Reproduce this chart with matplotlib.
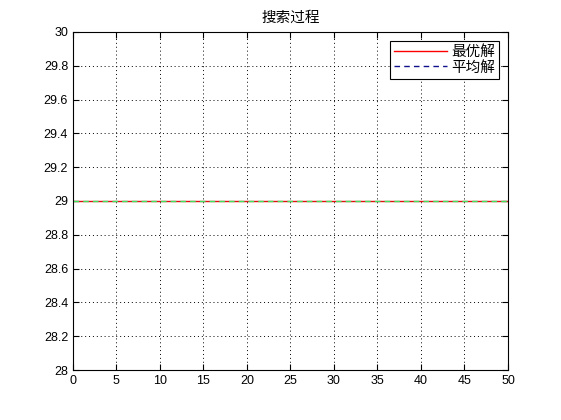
import matplotlib.pyplot as plt
from matplotlib.lines import Line2D

plt.rcParams['font.family'] = ['Liberation Sans', 'Noto Sans CJK SC', 'DejaVu Sans']
plt.rcParams['font.size'] = 9

gen = list(range(0, 51))
best = [29, 29, 29, 29, 29, 29, 29, 29, 29, 29,
        29, 29, 29, 29, 29, 29, 29, 29, 29, 29,
        29, 29, 29, 29, 29, 29, 29, 29, 29, 29,
        29, 29, 29, 29, 29, 29, 29, 29, 29, 29,
        29, 29, 29, 29, 29, 29, 29, 29, 29, 29, 29]
mean = [29, 29, 29, 29, 29, 29, 29, 29, 29, 29,
        29, 29, 29, 29, 29, 29, 29, 29, 29, 29,
        29, 29, 29, 29, 29, 29, 29, 29, 29, 29,
        29, 29, 29, 29, 29, 29, 29, 29, 29, 29,
        29, 29, 29, 29, 29, 29, 29, 29, 29, 29, 29]
labels = ['最优解', '平均解']

fig = plt.figure(figsize=(5.61, 4.2), dpi=100)
ax = fig.add_axes([0.130, 0.119, 0.7755, 0.805])
ax.plot(gen, best, color='#e01010', lw=1)
ax.plot(gen, mean, color='#40e060', lw=1, ls=(0, (4, 3)))

ax.set_xlim(0, 50)
ax.set_ylim(28, 30)
ax.set_xticks(range(0, 51, 5))
ax.set_yticks([28 + 0.2 * i for i in range(11)])
ax.set_yticklabels(['28', '28.2', '28.4', '28.6', '28.8', '29', '29.2', '29.4', '29.6', '29.8', '30'])
ax.tick_params(direction='in', top=True, right=True, length=4, width=0.8)
ax.grid(True, color='black', ls=(0, (1, 3)), lw=0.7)
ax.set_title('搜索过程', fontsize=10.5, pad=7)

handles = [Line2D([], [], color='red', lw=1),
           Line2D([], [], color='#10108c', lw=1, ls=(0, (4, 3)))]
leg = ax.legend(handles, labels, loc='upper right', fancybox=False, framealpha=1,
                edgecolor='black', fontsize=10.5, handlelength=3.6, borderaxespad=0.6,
                labelspacing=0.1, handletextpad=0.3, borderpad=0.3)
leg.get_frame().set_linewidth(0.8)

fig.savefig('out.png', dpi=100)
